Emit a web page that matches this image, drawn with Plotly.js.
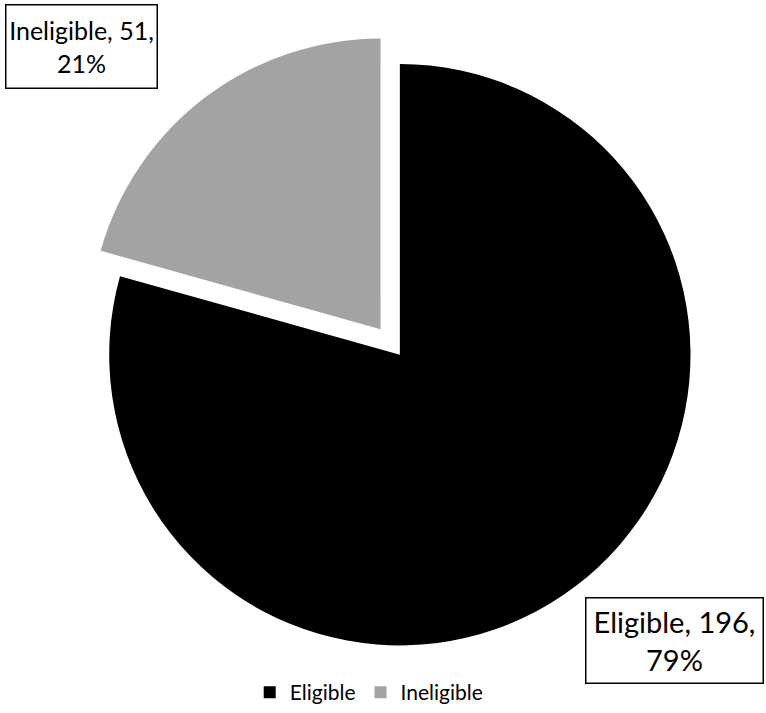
<!DOCTYPE html>
<html>
<head>
<meta charset="utf-8">
<script src="https://cdn.plot.ly/plotly-3.0.1.min.js"></script>
<style>html,body{margin:0;padding:0;background:#fff;}#chart{width:766px;height:713px;}</style>
</head>
<body>
<div id="chart"></div>
<script>
const categories = ["Eligible", "Ineligible"];
const counts = [196, 51];
const colors = ["#000000", "#a3a3a3"];
const pulls = [0, 0.11];

const total = counts.reduce((a, b) => a + b, 0);
const pct = counts.map(v => Math.round(v / total * 100));
const labelText = categories.map((c, i) => `${c}, ${counts[i]},<br>${pct[i]}%`);

const data = [{
  type: "pie",
  labels: categories,
  values: counts,
  sort: false,
  direction: "clockwise",
  rotation: 0,
  pull: pulls,
  marker: {colors: colors, line: {width: 0}},
  textinfo: "none",
  hoverinfo: "label+value+percent",
  domain: {x: [0.1, 0.944], y: [0.05, 0.955]}
}];

const font = {family: "Lato, 'Open Sans', sans-serif", color: "#000"};

const layout = {
  width: 766, height: 713,
  margin: {l: 0, r: 0, t: 0, b: 0},
  paper_bgcolor: "#fff",
  showlegend: true,
  legend: {
    orientation: "h", x: 0.482, xanchor: "center", y: 0.0, yanchor: "bottom",
    font: Object.assign({size: 21}, font), traceorder: "normal",
    itemwidth: 30
  },
  annotations: [
    {
      text: labelText[1], xref: "paper", yref: "paper",
      x: 0.107, y: 0.935, xanchor: "center", yanchor: "middle",
      showarrow: false, font: Object.assign({size: 25}, font),
      bordercolor: "#000", borderwidth: 1.5, borderpad: 0, bgcolor: "#fff",
      width: 150, height: 82, align: "center"
    },
    {
      text: labelText[0], xref: "paper", yref: "paper",
      x: 0.881, y: 0.101, xanchor: "center", yanchor: "middle",
      showarrow: false, font: Object.assign({size: 29}, font),
      bordercolor: "#000", borderwidth: 1.5, borderpad: 0, bgcolor: "#fff",
      width: 176, height: 84, align: "center"
    }
  ]
};

Plotly.newPlot("chart", data, layout, {displayModeBar: false});
</script>
</body>
</html>
